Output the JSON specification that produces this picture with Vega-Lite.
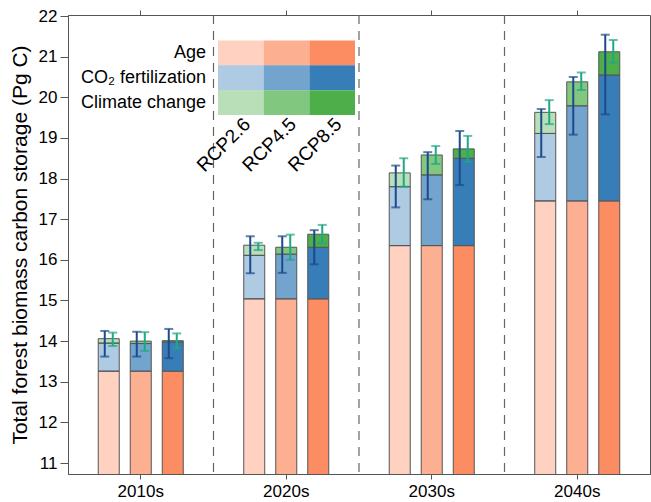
{
  "$schema": "https://vega.github.io/schema/vega-lite/v6.json",
  "width": 582,
  "height": 459,
  "autosize": "none",
  "padding": {"left": 68, "top": 15, "right": 1, "bottom": 28},
  "background": "white",
  "config": {
    "view": {"stroke": "#555", "strokeWidth": 1},
    "font": "Liberation Sans",
    "text": {"font": "Liberation Sans", "color": "#000"},
    "axis": {"labelFont": "Liberation Sans", "titleFont": "Liberation Sans", "labelColor": "#000", "titleColor": "#000", "domainColor": "#555", "tickColor": "#555", "grid": false, "titleFontWeight": "normal"}
  },
  "datasets": {
    "bars": [
      {"decade": "2010s", "rcp": "RCP2.6", "component": "Age", "value": 13.26},
      {"decade": "2010s", "rcp": "RCP2.6", "component": "CO2", "value": 0.69},
      {"decade": "2010s", "rcp": "RCP2.6", "component": "Climate", "value": 0.11},
      {"decade": "2010s", "rcp": "RCP4.5", "component": "Age", "value": 13.26},
      {"decade": "2010s", "rcp": "RCP4.5", "component": "CO2", "value": 0.68},
      {"decade": "2010s", "rcp": "RCP4.5", "component": "Climate", "value": 0.06},
      {"decade": "2010s", "rcp": "RCP8.5", "component": "Age", "value": 13.26},
      {"decade": "2010s", "rcp": "RCP8.5", "component": "CO2", "value": 0.72},
      {"decade": "2010s", "rcp": "RCP8.5", "component": "Climate", "value": 0.03},
      {"decade": "2020s", "rcp": "RCP2.6", "component": "Age", "value": 15.04},
      {"decade": "2020s", "rcp": "RCP2.6", "component": "CO2", "value": 1.07},
      {"decade": "2020s", "rcp": "RCP2.6", "component": "Climate", "value": 0.25},
      {"decade": "2020s", "rcp": "RCP4.5", "component": "Age", "value": 15.04},
      {"decade": "2020s", "rcp": "RCP4.5", "component": "CO2", "value": 1.10},
      {"decade": "2020s", "rcp": "RCP4.5", "component": "Climate", "value": 0.17},
      {"decade": "2020s", "rcp": "RCP8.5", "component": "Age", "value": 15.04},
      {"decade": "2020s", "rcp": "RCP8.5", "component": "CO2", "value": 1.27},
      {"decade": "2020s", "rcp": "RCP8.5", "component": "Climate", "value": 0.32},
      {"decade": "2030s", "rcp": "RCP2.6", "component": "Age", "value": 16.35},
      {"decade": "2030s", "rcp": "RCP2.6", "component": "CO2", "value": 1.45},
      {"decade": "2030s", "rcp": "RCP2.6", "component": "Climate", "value": 0.34},
      {"decade": "2030s", "rcp": "RCP4.5", "component": "Age", "value": 16.35},
      {"decade": "2030s", "rcp": "RCP4.5", "component": "CO2", "value": 1.74},
      {"decade": "2030s", "rcp": "RCP4.5", "component": "Climate", "value": 0.49},
      {"decade": "2030s", "rcp": "RCP8.5", "component": "Age", "value": 16.35},
      {"decade": "2030s", "rcp": "RCP8.5", "component": "CO2", "value": 2.15},
      {"decade": "2030s", "rcp": "RCP8.5", "component": "Climate", "value": 0.23},
      {"decade": "2040s", "rcp": "RCP2.6", "component": "Age", "value": 17.45},
      {"decade": "2040s", "rcp": "RCP2.6", "component": "CO2", "value": 1.66},
      {"decade": "2040s", "rcp": "RCP2.6", "component": "Climate", "value": 0.52},
      {"decade": "2040s", "rcp": "RCP4.5", "component": "Age", "value": 17.45},
      {"decade": "2040s", "rcp": "RCP4.5", "component": "CO2", "value": 2.34},
      {"decade": "2040s", "rcp": "RCP4.5", "component": "Climate", "value": 0.59},
      {"decade": "2040s", "rcp": "RCP8.5", "component": "Age", "value": 17.45},
      {"decade": "2040s", "rcp": "RCP8.5", "component": "CO2", "value": 3.10},
      {"decade": "2040s", "rcp": "RCP8.5", "component": "Climate", "value": 0.57}
    ],
    "errs": [
      {"decade": "2010s", "rcp": "RCP2.6", "type": "CO2", "lo": 13.62, "hi": 14.25},
      {"decade": "2010s", "rcp": "RCP4.5", "type": "CO2", "lo": 13.62, "hi": 14.23},
      {"decade": "2010s", "rcp": "RCP8.5", "type": "CO2", "lo": 13.58, "hi": 14.30},
      {"decade": "2020s", "rcp": "RCP2.6", "type": "CO2", "lo": 15.67, "hi": 16.58},
      {"decade": "2020s", "rcp": "RCP4.5", "type": "CO2", "lo": 15.68, "hi": 16.58},
      {"decade": "2020s", "rcp": "RCP8.5", "type": "CO2", "lo": 15.89, "hi": 16.73},
      {"decade": "2030s", "rcp": "RCP2.6", "type": "CO2", "lo": 17.29, "hi": 18.32},
      {"decade": "2030s", "rcp": "RCP4.5", "type": "CO2", "lo": 17.49, "hi": 18.65},
      {"decade": "2030s", "rcp": "RCP8.5", "type": "CO2", "lo": 17.84, "hi": 19.17},
      {"decade": "2040s", "rcp": "RCP2.6", "type": "CO2", "lo": 18.53, "hi": 19.71},
      {"decade": "2040s", "rcp": "RCP4.5", "type": "CO2", "lo": 19.08, "hi": 20.50},
      {"decade": "2040s", "rcp": "RCP8.5", "type": "CO2", "lo": 19.58, "hi": 21.54},
      {"decade": "2010s", "rcp": "RCP2.6", "type": "Climate", "lo": 13.88, "hi": 14.21},
      {"decade": "2010s", "rcp": "RCP4.5", "type": "Climate", "lo": 13.76, "hi": 14.22},
      {"decade": "2010s", "rcp": "RCP8.5", "type": "Climate", "lo": 13.82, "hi": 14.19},
      {"decade": "2020s", "rcp": "RCP2.6", "type": "Climate", "lo": 16.24, "hi": 16.42},
      {"decade": "2020s", "rcp": "RCP4.5", "type": "Climate", "lo": 16.00, "hi": 16.62},
      {"decade": "2020s", "rcp": "RCP8.5", "type": "Climate", "lo": 16.41, "hi": 16.86},
      {"decade": "2030s", "rcp": "RCP2.6", "type": "Climate", "lo": 17.80, "hi": 18.50},
      {"decade": "2030s", "rcp": "RCP4.5", "type": "Climate", "lo": 18.36, "hi": 18.80},
      {"decade": "2030s", "rcp": "RCP8.5", "type": "Climate", "lo": 18.41, "hi": 19.05},
      {"decade": "2040s", "rcp": "RCP2.6", "type": "Climate", "lo": 19.34, "hi": 19.93},
      {"decade": "2040s", "rcp": "RCP4.5", "type": "Climate", "lo": 20.18, "hi": 20.61},
      {"decade": "2040s", "rcp": "RCP8.5", "type": "Climate", "lo": 20.85, "hi": 21.41}
    ],
    "seps": [{"decade": "2010s"}, {"decade": "2020s"}, {"decade": "2030s"}],
    "legend": [
      {"rcp": "RCP2.6", "component": "Age"}, {"rcp": "RCP4.5", "component": "Age"}, {"rcp": "RCP8.5", "component": "Age"},
      {"rcp": "RCP2.6", "component": "CO2"}, {"rcp": "RCP4.5", "component": "CO2"}, {"rcp": "RCP8.5", "component": "CO2"},
      {"rcp": "RCP2.6", "component": "Climate"}, {"rcp": "RCP4.5", "component": "Climate"}, {"rcp": "RCP8.5", "component": "Climate"}
    ],
    "leglabels": [
      {"component": "Age", "label": "Age"},
      {"component": "CO2", "label": "CO₂ fertilization"},
      {"component": "Climate", "label": "Climate change"}
    ],
    "legrcp": [{"rcp": "RCP2.6"}, {"rcp": "RCP4.5"}, {"rcp": "RCP8.5"}]
  },
  "layer": [
    {
      "layer": [
        {
          "data": {"name": "seps"},
          "mark": {"type": "rule", "strokeDash": [9, 7], "color": "#666", "strokeWidth": 1.2},
          "encoding": {
            "x": {"field": "decade", "type": "nominal", "bandPosition": 1, "scale": {"domain": ["2010s", "2020s", "2030s", "2040s"], "paddingInner": 0, "paddingOuter": 0}, "axis": {"orient": "top", "labels": false, "domain": false, "tickSize": 5, "title": null}}
          }
        },
        {
          "data": {"name": "bars"},
          "mark": {"type": "bar", "stroke": "#555", "strokeWidth": 1, "clip": true},
          "encoding": {
            "x": {"field": "decade", "type": "nominal", "scale": {"domain": ["2010s", "2020s", "2030s", "2040s"], "paddingInner": 0, "paddingOuter": 0}, "axis": {"orient": "bottom", "labelAngle": 0, "labelFontSize": 17, "tickSize": 5, "labelPadding": 4, "title": null}},
            "xOffset": {"field": "rcp", "type": "nominal", "scale": {"domain": ["RCP2.6", "RCP4.5", "RCP8.5"], "range": [0, 145.5], "paddingInner": 0.34375, "paddingOuter": 0.9453}},
            "y": {"field": "value", "type": "quantitative", "stack": "zero", "scale": {"domain": [10.73, 22.025], "nice": false, "zero": false},
              "axis": {"values": [11, 11.5, 12, 12.5, 13, 13.5, 14, 14.5, 15, 15.5, 16, 16.5, 17, 17.5, 18, 18.5, 19, 19.5, 20, 20.5, 21, 21.5, 22], "labelExpr": "datum.value % 1 === 0 ? format(datum.value, 'd') : ''", "tickSize": {"condition": {"test": "datum.value % 1 !== 0", "value": 4}, "value": 8}, "labelFontSize": 17, "labelPadding": 3, "labelFlush": false, "labelOverlap": false, "title": "Total forest biomass carbon storage (Pg C)", "titleFontSize": 21, "titlePadding": 8}},
            "color": {"field": "component", "type": "nominal", "scale": {"domain": ["Age", "CO2", "Climate"], "range": ["#fc8d62", "#377eb8", "#4daf4a"]}, "legend": null},
            "fillOpacity": {"field": "rcp", "type": "nominal", "scale": {"type": "point", "domain": ["RCP2.6", "RCP4.5", "RCP8.5"], "range": [0.4, 1], "padding": 0}, "legend": null},
            "order": {"field": "component", "type": "ordinal", "sort": "ascending"}
          }
        },
        {
          "data": {"name": "errs"},
          "transform": [{"filter": "datum.type === 'CO2'"}],
          "mark": {"type": "rule", "color": "#1c4a8c", "strokeWidth": 2},
          "encoding": {
            "x": {"field": "decade", "type": "nominal", "scale": {"domain": ["2010s", "2020s", "2030s", "2040s"], "paddingInner": 0, "paddingOuter": 0}, "axis": null},
            "xOffset": {"field": "rcp", "type": "nominal", "scale": {"domain": ["RCP2.6", "RCP4.5", "RCP8.5"], "range": [-4, 141.5], "paddingInner": 0.34375, "paddingOuter": 0.9453}},
            "y": {"field": "lo", "type": "quantitative", "title": "Total forest biomass carbon storage (Pg C)", "scale": {"domain": [10.73, 22.025], "nice": false, "zero": false}},
            "y2": {"field": "hi"}
          }
        },
        {
          "data": {"name": "errs"},
          "transform": [{"filter": "datum.type === 'CO2'"}],
          "mark": {"type": "tick", "color": "#1c4a8c", "thickness": 2, "size": 9},
          "encoding": {
            "x": {"field": "decade", "type": "nominal", "scale": {"domain": ["2010s", "2020s", "2030s", "2040s"], "paddingInner": 0, "paddingOuter": 0}, "axis": null},
            "xOffset": {"field": "rcp", "type": "nominal", "scale": {"domain": ["RCP2.6", "RCP4.5", "RCP8.5"], "range": [-4, 141.5], "paddingInner": 0.34375, "paddingOuter": 0.9453}},
            "y": {"field": "lo", "type": "quantitative", "title": "Total forest biomass carbon storage (Pg C)", "scale": {"domain": [10.73, 22.025], "nice": false, "zero": false}}
          }
        },
        {
          "data": {"name": "errs"},
          "transform": [{"filter": "datum.type === 'CO2'"}],
          "mark": {"type": "tick", "color": "#1c4a8c", "thickness": 2, "size": 9},
          "encoding": {
            "x": {"field": "decade", "type": "nominal", "scale": {"domain": ["2010s", "2020s", "2030s", "2040s"], "paddingInner": 0, "paddingOuter": 0}, "axis": null},
            "xOffset": {"field": "rcp", "type": "nominal", "scale": {"domain": ["RCP2.6", "RCP4.5", "RCP8.5"], "range": [-4, 141.5], "paddingInner": 0.34375, "paddingOuter": 0.9453}},
            "y": {"field": "hi", "type": "quantitative", "title": "Total forest biomass carbon storage (Pg C)", "scale": {"domain": [10.73, 22.025], "nice": false, "zero": false}}
          }
        },
        {
          "data": {"name": "errs"},
          "transform": [{"filter": "datum.type === 'Climate'"}],
          "mark": {"type": "rule", "color": "#1fa884", "strokeWidth": 2},
          "encoding": {
            "x": {"field": "decade", "type": "nominal", "scale": {"domain": ["2010s", "2020s", "2030s", "2040s"], "paddingInner": 0, "paddingOuter": 0}, "axis": null},
            "xOffset": {"field": "rcp", "type": "nominal", "scale": {"domain": ["RCP2.6", "RCP4.5", "RCP8.5"], "range": [4, 149.5], "paddingInner": 0.34375, "paddingOuter": 0.9453}},
            "y": {"field": "lo", "type": "quantitative", "title": "Total forest biomass carbon storage (Pg C)", "scale": {"domain": [10.73, 22.025], "nice": false, "zero": false}},
            "y2": {"field": "hi"}
          }
        },
        {
          "data": {"name": "errs"},
          "transform": [{"filter": "datum.type === 'Climate'"}],
          "mark": {"type": "tick", "color": "#1fa884", "thickness": 2, "size": 9},
          "encoding": {
            "x": {"field": "decade", "type": "nominal", "scale": {"domain": ["2010s", "2020s", "2030s", "2040s"], "paddingInner": 0, "paddingOuter": 0}, "axis": null},
            "xOffset": {"field": "rcp", "type": "nominal", "scale": {"domain": ["RCP2.6", "RCP4.5", "RCP8.5"], "range": [4, 149.5], "paddingInner": 0.34375, "paddingOuter": 0.9453}},
            "y": {"field": "lo", "type": "quantitative", "title": "Total forest biomass carbon storage (Pg C)", "scale": {"domain": [10.73, 22.025], "nice": false, "zero": false}}
          }
        },
        {
          "data": {"name": "errs"},
          "transform": [{"filter": "datum.type === 'Climate'"}],
          "mark": {"type": "tick", "color": "#1fa884", "thickness": 2, "size": 9},
          "encoding": {
            "x": {"field": "decade", "type": "nominal", "scale": {"domain": ["2010s", "2020s", "2030s", "2040s"], "paddingInner": 0, "paddingOuter": 0}, "axis": null},
            "xOffset": {"field": "rcp", "type": "nominal", "scale": {"domain": ["RCP2.6", "RCP4.5", "RCP8.5"], "range": [4, 149.5], "paddingInner": 0.34375, "paddingOuter": 0.9453}},
            "y": {"field": "hi", "type": "quantitative", "title": "Total forest biomass carbon storage (Pg C)", "scale": {"domain": [10.73, 22.025], "nice": false, "zero": false}}
          }
        }
      ],
      "resolve": {"scale": {"x": "independent", "xOffset": "independent"}}
    },
    {
      "layer": [
        {
          "data": {"name": "legend"},
          "mark": {"type": "rect"},
          "encoding": {
            "x": {"field": "rcp", "type": "nominal", "scale": {"domain": ["RCP2.6", "RCP4.5", "RCP8.5"], "range": [150, 287], "paddingInner": 0, "paddingOuter": 0}, "axis": null},
            "y": {"field": "component", "type": "nominal", "scale": {"domain": ["Age", "CO2", "Climate"], "range": [25.5, 100], "paddingInner": 0, "paddingOuter": 0}, "axis": null},
            "color": {"field": "component", "type": "nominal", "legend": null},
            "fillOpacity": {"field": "rcp", "type": "nominal", "scale": {"type": "point", "domain": ["RCP2.6", "RCP4.5", "RCP8.5"], "range": [0.4, 1], "padding": 0}, "legend": null}
          }
        },
        {
          "data": {"name": "leglabels"},
          "mark": {"type": "text", "align": "right", "baseline": "middle", "fontSize": 18, "dx": -12},
          "encoding": {
            "x": {"datum": "RCP2.6", "type": "nominal", "bandPosition": 0},
            "y": {"field": "component", "type": "nominal"},
            "text": {"field": "label"}
          }
        },
        {
          "data": {"name": "legrcp"},
          "mark": {"type": "text", "align": "right", "baseline": "top", "angle": -45, "fontSize": 19},
          "encoding": {
            "x": {"field": "rcp", "type": "nominal"},
            "y": {"datum": "Climate", "type": "nominal", "bandPosition": 1},
            "text": {"field": "rcp"}
          }
        }
      ]
    }
  ],
  "resolve": {"scale": {"x": "independent", "y": "independent"}}
}
